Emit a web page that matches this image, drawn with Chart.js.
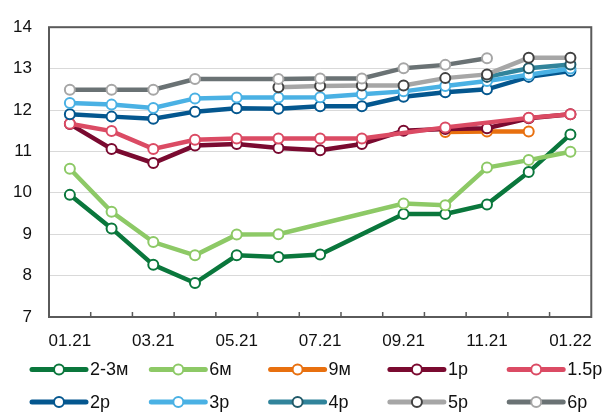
<!DOCTYPE html>
<html>
<head>
<meta charset="utf-8">
<script src="https://cdn.jsdelivr.net/npm/chart.js@4.4.1/dist/chart.umd.min.js"></script>
<style>
    html, body { margin: 0; padding: 0; background: #fff; }
    #wrap { position: relative; width: 606px; height: 413px; }
</style>
</head>
<body>
<div id="wrap"><canvas id="yieldChart"></canvas></div>
<script>
const months = ['01.21', '02.21', '03.21', '04.21', '05.21', '06.21', '07.21', '08.21', '09.21', '10.21', '11.21', '12.21', '01.22'];
const seriesNames = ['2-3м', '6м', '9м', '1р', '1.5р', '2р', '3р', '4р', '5р', '6р'];

// values, null = no point that month
const v2to3m = [9.95, 9.14, 8.26, 7.82, 8.49, 8.45, 8.51, null, 9.49, 9.49, 9.72, 10.50, 11.41];
const v6m    = [10.58, 9.54, 8.81, 8.49, 8.99, 9.00, null, null, 9.74, 9.70, 10.61, 10.79, 10.99];
const v9m    = [null, null, null, null, null, null, null, null, null, 11.47, 11.48, 11.48, null];
const v1y    = [11.66, 11.06, 10.72, 11.14, 11.18, 11.08, 11.03, 11.18, 11.50, 11.54, 11.56, 11.80, 11.90];
const v1_5y  = [11.67, 11.49, 11.06, 11.28, 11.31, 11.31, 11.31, 11.31, null, 11.58, null, 11.81, 11.90];
const v2y    = [11.90, 11.84, 11.79, 11.96, 12.04, 12.03, 12.09, 12.09, 12.32, 12.43, 12.50, 12.80, 12.94];
const v3y    = [12.17, 12.13, 12.05, 12.28, 12.30, 12.30, 12.31, 12.38, 12.45, 12.58, 12.70, 12.85, 13.00];
const v4y    = [null, null, null, null, null, null, null, null, null, null, 12.80, 13.01, 13.10];
const v5y    = [null, null, null, null, null, 12.55, 12.58, 12.59, 12.59, 12.77, 12.86, 13.26, 13.26];
const v6y    = [12.49, 12.49, 12.49, 12.75, null, 12.75, 12.76, 12.76, 13.01, 13.09, 13.25, null, null];
const seriesValues = [v2to3m, v6m, v9m, v1y, v1_5y, v2y, v3y, v4y, v5y, v6y];

const lineColors = ['#0A773C', '#8DC966', '#E8700F', '#7A0A30', '#DB4B64', '#04578F', '#4AB1E4', '#31849B', '#A6A6A6', '#6A7274'];
const markerColors = ['#0A773C', '#8DC966', '#E8700F', '#7A0A30', '#DB4B64', '#04578F', '#4AB1E4', '#215A69', '#424242', '#A6A6A6'];

const FONT = "'Liberation Sans', Arial, sans-serif";

// frame round the plot + short inward ticks between months
const framePlugin = {
    id: 'frame',
    beforeDatasetsDraw(chart) {
        const { ctx, chartArea: a, scales: { x } } = chart;
        ctx.save();
        ctx.strokeStyle = '#5a5a5a';
        ctx.lineWidth = 2;
        ctx.strokeRect(a.left, a.top, a.width, a.height);
        ctx.lineWidth = 1.5;
        ctx.beginPath();
        for (let i = 1; i < months.length; i++) {
            const px = (x.getPixelForValue(i - 1) + x.getPixelForValue(i)) / 2;
            ctx.moveTo(px, a.bottom);
            ctx.lineTo(px, a.bottom - 5);
        }
        ctx.stroke();
        ctx.restore();
    }
};

// legend in a 5-column grid, line + marker swatch
const legendPlugin = {
    id: 'gridLegend',
    afterDraw(chart) {
        const ctx = chart.ctx;
        ctx.save();
        ctx.font = '18px ' + FONT;
        ctx.textBaseline = 'middle';
        seriesNames.forEach((name, i) => {
            const x0 = 32 + (i % 5) * 119.3;
            const y = 369.5 + Math.floor(i / 5) * 32.5;
            ctx.strokeStyle = lineColors[i];
            ctx.lineWidth = 5;
            ctx.lineCap = 'round';
            ctx.beginPath();
            ctx.moveTo(x0, y);
            ctx.lineTo(x0 + 54, y);
            ctx.stroke();
            ctx.beginPath();
            ctx.arc(x0 + 27, y, 5, 0, Math.PI * 2);
            ctx.fillStyle = '#fff';
            ctx.fill();
            ctx.lineWidth = 2;
            ctx.strokeStyle = markerColors[i];
            ctx.stroke();
            ctx.fillStyle = '#111';
            ctx.fillText(name, x0 + 58, y + 1);
        });
        ctx.restore();
    }
};

const datasets = seriesNames.map((name, i) => ({
    label: name,
    data: seriesValues[i],
    borderColor: lineColors[i],
    backgroundColor: '#fff',
    borderWidth: 4.5,
    pointRadius: 5,
    pointBorderWidth: 2,
    pointBackgroundColor: '#fff',
    pointBorderColor: markerColors[i],
    spanGaps: true,
    tension: 0,
    order: -i
}));

new Chart(document.getElementById('yieldChart').getContext('2d'), {
    type: 'line',
    data: { labels: months, datasets: datasets },
    options: {
        responsive: true,
        maintainAspectRatio: false,
        animation: false,
        layout: { padding: { left: 0, right: 8, top: 22, bottom: 0 } },
        plugins: {
            legend: { display: false },
            tooltip: { enabled: false }
        },
        scales: {
            x: {
                offset: true,
                grid: { display: false, drawTicks: false },
                border: { display: false },
                afterFit: (scale) => { scale.height = 96; },
                ticks: {
                    autoSkip: false,
                    maxRotation: 0,
                    padding: 14,
                    color: '#111',
                    font: { family: FONT, size: 17 },
                    callback: function(value, index) { return index % 2 === 0 ? months[index] : ''; }
                }
            },
            y: {
                min: 7,
                max: 14,
                grid: { color: '#d9d9d9', lineWidth: 1, drawTicks: false },
                border: { display: false },
                afterFit: (scale) => { scale.width = 49; },
                ticks: {
                    stepSize: 1,
                    padding: 17,
                    color: '#111',
                    font: { family: FONT, size: 17 }
                }
            }
        }
    },
    plugins: [framePlugin, legendPlugin]
});
</script>
</body>
</html>
